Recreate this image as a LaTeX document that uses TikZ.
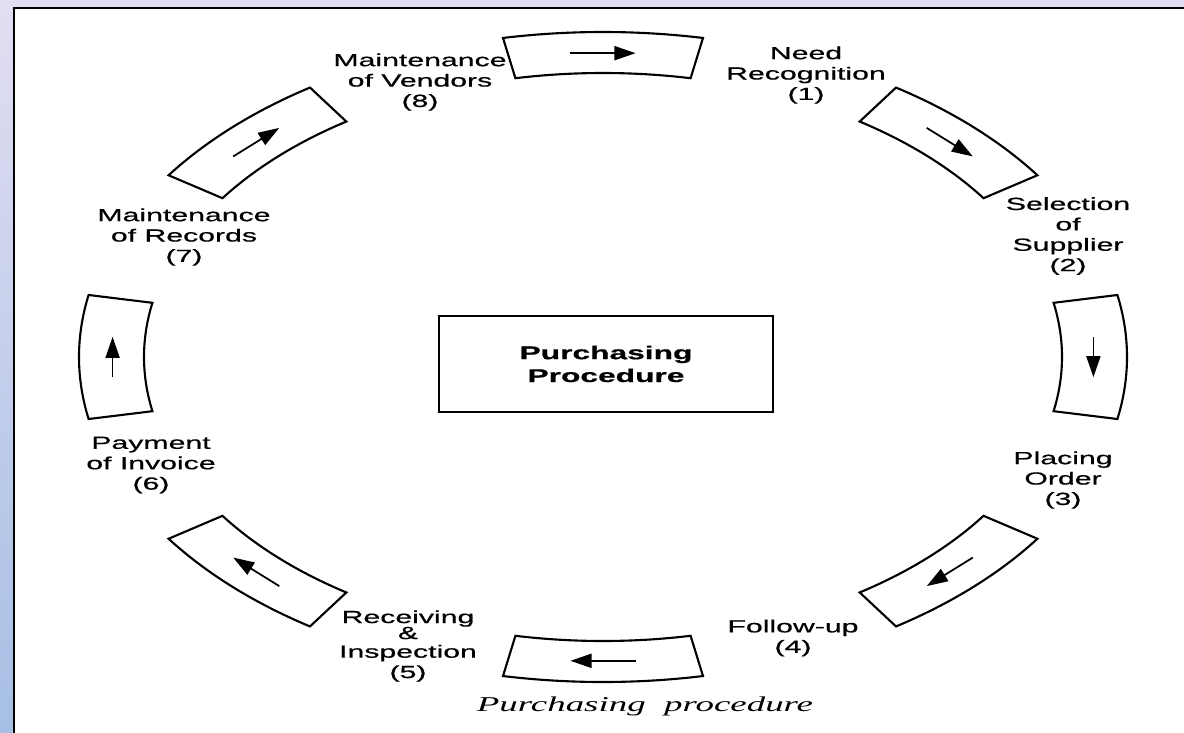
\documentclass[tikz,border=0pt]{standalone}
\usepackage{fontspec}
\newfontfamily\stagefont{Liberation Sans}[FakeStretch = 1.72, FakeBold = 0.6]
\newfontfamily\titlefont{Liberation Serif}[FakeStretch = 1.75]
\usetikzlibrary{arrows.meta}
\definecolor{lavender}{RGB}{226,222,242}
\definecolor{paleblue}{RGB}{166,191,228}

\begin{document}
\begin{tikzpicture}[x = 0.2mm, y = 0.2mm,
		stagebox/.style = {draw, line width = 1.2pt, line join = miter},
		steparrow/.style = {-{Triangle[length = 12pt, width = 8pt]}, line width = 1pt},
		stagelabel/.style = {align = center, inner sep = 0pt, font = \stagefont\fontsize{10}{11.6}\selectfont}]
	\useasboundingbox (0, 0) rectangle (1184, 732);
	\shade[top color = lavender, bottom color = paleblue] (0, 0) rectangle (1184, 732);
	\draw[fill = white, line width = 1.5pt] (14, -20) rectangle (1204, 724);
	\begin{scope}[shift = {(603, 375)}]
		\foreach \a/\n in {90/1, 45/2, 0/3, -45/4, -90/5, -135/6, 180/7, 135/8} {
			\draw[stagebox] (\a + 11:524 and 325) arc[start angle = \a + 11, end angle = \a - 11, x radius = 524, y radius = 325]
				-- (\a - 11:459 and 284) arc[start angle = \a - 11, end angle = \a + 11, x radius = 459, y radius = 284] -- cycle;
			\coordinate (t\n) at (\a + 3.8:491.5 and 304.5);
			\coordinate (h\n) at (\a - 3.8:491.5 and 304.5);
			\draw[steparrow] (t\n) -- (h\n);
		}
	\end{scope}
	\foreach \n/\x/\y/\t in {1/806/657/{Need\\Recognition\\(1)}, 2/1068/496/{Selection\\of\\Supplier\\(2)},
			3/1063/252/{Placing\\Order\\(3)}, 4/793/94/{Follow-up\\(4)}, 5/408/86/{Receiving\\[-2.5pt]\&\\[-1pt]Inspection\\(5)},
			6/151/267/{Payment\\of Invoice\\(6)}, 7/184/495/{Maintenance\\of Records\\(7)}, 8/420/650/{Maintenance\\of Vendors\\(8)}}
		\node[stagelabel] (l\n) at (\x, \y) {\t};
	\node[draw, line width = 1.2pt, minimum width = 66.8mm, minimum height = 19.2mm, align = center,
		font = \stagefont\bfseries\fontsize{10.5}{13}\selectfont] (procedure) at (606, 368) {Purchasing\\Procedure};
	\node[font = \titlefont\itshape\fontsize{12}{14}\selectfont] (caption) at (645, 26) {Purchasing~~procedure};
\end{tikzpicture}
\end{document}
